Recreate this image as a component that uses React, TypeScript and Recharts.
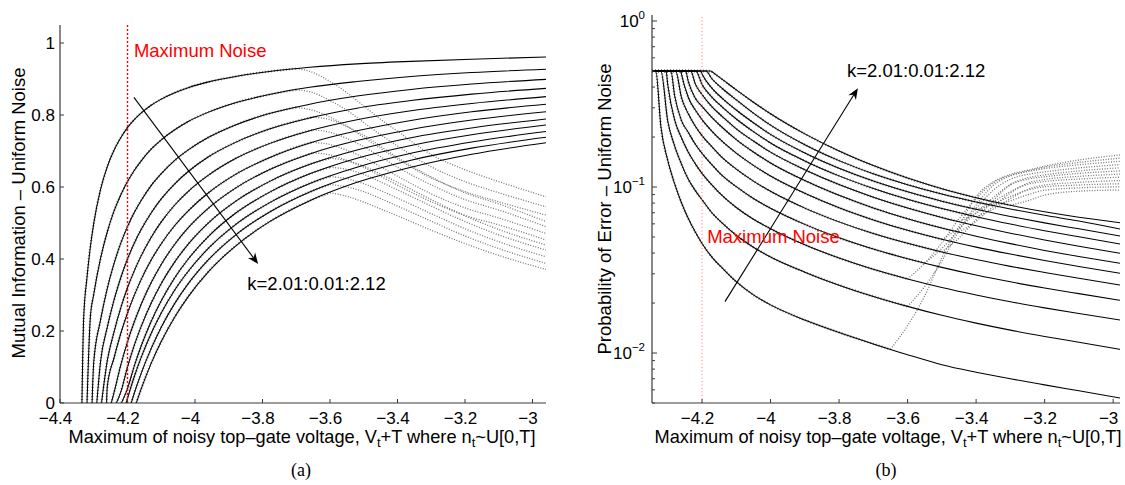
import React from 'react';
import { LineChart, Line, XAxis, YAxis, ReferenceLine, ReferenceDot } from 'recharts';

const FONT = '"Liberation Sans", Arial, Helvetica, sans-serif';
const N = null;

// k = 2.01 : 0.01 : 2.12
const kValues = ['2.01', '2.02', '2.03', '2.04', '2.05', '2.06', '2.07', '2.08', '2.09', '2.10', '2.11', '2.12'];
// voltage where each curve leaves MI = 0 / Pe = 0.5
const intercepts = [-4.335, -4.32, -4.305, -4.291, -4.277, -4.262, -4.248, -4.233, -4.218, -4.204, -4.189, -4.174];

// ---------- (a) Mutual information, theory (solid) ----------
const miGrid = [-4.33, -4.32, -4.31, -4.3, -4.28, -4.26, -4.24, -4.22, -4.2, -4.18, -4.16, -4.13, -4.1, -4.06, -4.02, -3.96, -3.88, -3.78, -3.66, -3.52, -3.36, -3.18, -2.96];
const mi201 = [0.232, 0.349, 0.434, 0.499, 0.593, 0.656, 0.702, 0.737, 0.765, 0.787, 0.805, 0.827, 0.844, 0.862, 0.876, 0.892, 0.907, 0.921, 0.9325, 0.942, 0.949, 0.955, 0.961];
const mi202 = [N, N, 0.239, 0.302, 0.401, 0.475, 0.533, 0.578, 0.615, 0.646, 0.672, 0.705, 0.731, 0.759, 0.782, 0.808, 0.834, 0.857, 0.877, 0.893, 0.907, 0.918, 0.927];
const mi203 = [N, N, N, 0.114, 0.23, 0.318, 0.387, 0.444, 0.49, 0.529, 0.562, 0.604, 0.637, 0.674, 0.703, 0.738, 0.7725, 0.804, 0.83, 0.8525, 0.871, 0.886, 0.899];
const mi204 = [N, N, N, N, 0.114, 0.21, 0.286, 0.348, 0.4, 0.444, 0.481, 0.528, 0.567, 0.609, 0.643, 0.684, 0.724, 0.761, 0.792, 0.819, 0.84, 0.858, 0.874];
const mi205 = [N, N, N, N, N, 0.117, 0.197, 0.264, 0.32, 0.367, 0.408, 0.46, 0.503, 0.55, 0.588, 0.633, 0.679, 0.7205, 0.7565, 0.787, 0.812, 0.832, 0.851];
const mi206 = [N, N, N, N, N, 0.045, 0.125, 0.193, 0.25, 0.299, 0.342, 0.397, 0.4425, 0.493, 0.534, 0.584, 0.635, 0.681, 0.722, 0.756, 0.785, 0.809, 0.83];
const mi207 = [N, N, N, N, N, N, 0.0285, 0.105, 0.17, 0.225, 0.273, 0.334, 0.385, 0.441, 0.487, 0.5415, 0.597, 0.648, 0.692, 0.729, 0.76, 0.786, 0.809];
const mi208 = [N, N, N, N, N, N, N, 0.03, 0.1, 0.16, 0.2115, 0.277, 0.332, 0.392, 0.4415, 0.5006, 0.56, 0.615, 0.663, 0.703, 0.737, 0.764, 0.789];
const mi209 = [N, N, N, N, N, N, N, N, 0.04, 0.1026, 0.157, 0.2264, 0.284, 0.348, 0.4, 0.463, 0.527, 0.585, 0.6365, 0.68, 0.7155, 0.745, 0.772];
const mi210 = [N, N, N, N, N, N, N, N, 0.013, 0.073, 0.1255, 0.193, 0.25, 0.314, 0.366, 0.43, 0.4955, 0.556, 0.61, 0.655, 0.6936, 0.725, 0.754];
const mi211 = [N, N, N, N, N, N, N, N, N, 0.027, 0.081, 0.151, 0.2106, 0.2767, 0.3315, 0.398, 0.4665, 0.53, 0.5864, 0.634, 0.6745, 0.708, 0.738];
const mi212 = [N, N, N, N, N, N, N, N, N, N, 0.038, 0.11, 0.1707, 0.239, 0.2956, 0.365, 0.436, 0.503, 0.562, 0.613, 0.655, 0.691, 0.723];
const miCurves = [mi201, mi202, mi203, mi204, mi205, mi206, mi207, mi208, mi209, mi210, mi211, mi212];

// ---------- (a) Mutual information, simulation tails (dotted) ----------
const miTailGrid = [-3.7, -3.65, -3.6, -3.55, -3.5, -3.45, -3.4, -3.3, -3.2, -3.1, -2.96];
const miTail201 = [0.929, 0.918, 0.893, 0.862, 0.825, 0.788, 0.755, 0.69, 0.648, 0.615, 0.573];
const miTail202 = [0.87, 0.862, 0.84, 0.813, 0.779, 0.745, 0.714, 0.656, 0.615, 0.584, 0.545];
const miTail203 = [0.821, 0.813, 0.794, 0.769, 0.738, 0.707, 0.678, 0.625, 0.587, 0.559, 0.522];
const miTail204 = [N, 0.794, 0.787, 0.768, 0.744, 0.713, 0.682, 0.628, 0.584, 0.553, 0.504];
const miTail205 = [N, 0.759, 0.752, 0.735, 0.712, 0.684, 0.655, 0.606, 0.565, 0.536, 0.49];
const miTail206 = [N, 0.724, 0.718, 0.702, 0.682, 0.656, 0.63, 0.581, 0.542, 0.514, 0.471];
const miTail207 = [N, 0.695, 0.689, 0.674, 0.655, 0.63, 0.605, 0.559, 0.521, 0.495, 0.453];
const miTail208 = [N, N, 0.68, 0.673, 0.658, 0.636, 0.613, 0.565, 0.52, 0.482, 0.439];
const miTail209 = [N, N, 0.655, 0.649, 0.635, 0.614, 0.592, 0.547, 0.504, 0.467, 0.425];
const miTail210 = [N, N, 0.629, 0.623, 0.609, 0.59, 0.569, 0.526, 0.484, 0.448, 0.406];
const miTail211 = [N, N, 0.607, 0.6, 0.587, 0.568, 0.547, 0.505, 0.464, 0.429, 0.388];
const miTail212 = [N, N, 0.584, 0.574, 0.558, 0.539, 0.52, 0.48, 0.443, 0.41, 0.371];
const miTails = [miTail201, miTail202, miTail203, miTail204, miTail205, miTail206, miTail207, miTail208, miTail209, miTail210, miTail211, miTail212];

// ---------- (b) Probability of error, theory (solid) ----------
const peGrid = [-4.32, -4.3, -4.28, -4.26, -4.24, -4.22, -4.2, -4.17, -4.14, -4.1, -4.05, -4.0, -3.9, -3.8, -3.7, -3.6, -3.5, -3.4, -3.3, -3.2, -3.1, -2.98];
const pe201 = [0.2307, 0.1445, 0.1047, 0.0804, 0.0646, 0.0537, 0.0457, 0.0376, 0.0324, 0.0269, 0.0224, 0.0195, 0.0158, 0.0133, 0.01135, 0.00977, 0.00851, 0.00767, 0.007, 0.00643, 0.00592, 0.00536];
const pe202 = [N, 0.249, 0.177, 0.1374, 0.1114, 0.0955, 0.0838, 0.0695, 0.0604, 0.0512, 0.0434, 0.0379, 0.0307, 0.02564, 0.02193, 0.0191, 0.01687, 0.01514, 0.01374, 0.01259, 0.01161, 0.01052];
const pe203 = [N, 0.413, 0.2535, 0.198, 0.162, 0.1384, 0.1208, 0.1023, 0.0883, 0.0753, 0.064, 0.0561, 0.04487, 0.03733, 0.03192, 0.02793, 0.02483, 0.02239, 0.02037, 0.01871, 0.0173, 0.0158];
const pe204 = [N, N, 0.356, 0.251, 0.2133, 0.1816, 0.1596, 0.1355, 0.1167, 0.1005, 0.0853, 0.0745, 0.05957, 0.04943, 0.04227, 0.03698, 0.03281, 0.02951, 0.02685, 0.02466, 0.0228, 0.0208];
const pe205 = [N, N, N, 0.346, 0.276, 0.2333, 0.204, 0.1738, 0.1496, 0.1282, 0.1086, 0.0942, 0.07464, 0.06166, 0.05248, 0.04581, 0.04064, 0.03656, 0.03327, 0.03055, 0.02818, 0.0257];
const pe206 = [N, N, N, 0.478, 0.346, 0.2917, 0.2547, 0.2158, 0.1875, 0.16, 0.1349, 0.1164, 0.09162, 0.07499, 0.06339, 0.05483, 0.04842, 0.04345, 0.03945, 0.03606, 0.03319, 0.0302];
const pe207 = [N, N, N, N, 0.4315, 0.3436, 0.3062, 0.2612, 0.2275, 0.1932, 0.1626, 0.1396, 0.1094, 0.08913, 0.07482, 0.06442, 0.05662, 0.05058, 0.0456, 0.0415, 0.03811, 0.0347];
const pe208 = [N, N, N, N, N, 0.4198, 0.3606, 0.3027, 0.2649, 0.2239, 0.1892, 0.1622, 0.1271, 0.1035, 0.0869, 0.07482, 0.06561, 0.05848, 0.05272, 0.04797, 0.04395, 0.0399];
const pe209 = [N, N, N, N, N, N, 0.415, 0.346, 0.302, 0.257, 0.2158, 0.1841, 0.1436, 0.1167, 0.09795, 0.08433, 0.07413, 0.06622, 0.05984, 0.05458, 0.05012, 0.0454];
const pe210 = [N, N, N, N, N, N, 0.48, 0.3917, 0.3412, 0.2911, 0.2438, 0.2075, 0.1603, 0.1297, 0.1086, 0.09354, 0.08222, 0.07345, 0.06653, 0.06081, 0.05598, 0.0507];
const pe211 = [N, N, N, N, N, N, N, 0.4457, 0.3908, 0.335, 0.2786, 0.236, 0.1799, 0.1442, 0.1202, 0.1033, 0.09078, 0.08128, 0.07379, 0.06761, 0.06237, 0.0558];
const pe212 = [N, N, N, N, N, N, N, 0.493, 0.4436, 0.3846, 0.3243, 0.2761, 0.2089, 0.1648, 0.1346, 0.1132, 0.09772, 0.0863, 0.07762, 0.07096, 0.06577, 0.061];
const peCurves = [pe201, pe202, pe203, pe204, pe205, pe206, pe207, pe208, pe209, pe210, pe211, pe212];

// ---------- (b) Probability of error, simulation tails (dotted) ----------
const peTailGrid = [-3.65, -3.6, -3.55, -3.5, -3.45, -3.4, -3.35, -3.3, -3.25, -3.2, -3.1, -2.98];
const peTail201 = [0.01052, 0.01462, 0.02208, 0.0375, 0.0579, 0.0875, 0.1074, 0.1191, 0.1262, 0.1334, 0.1455, 0.156];
const peTail202 = [N, 0.0191, 0.02518, 0.0358, 0.05445, 0.0778, 0.1023, 0.1167, 0.1245, 0.1315, 0.1406, 0.1493];
const peTail203 = [N, 0.02793, 0.03475, 0.04603, 0.06427, 0.08511, 0.1059, 0.1175, 0.1239, 0.1291, 0.1361, 0.1429];
const peTail204 = [N, N, 0.03483, 0.04266, 0.05559, 0.0743, 0.09572, 0.1114, 0.1191, 0.1233, 0.1303, 0.1365];
const peTail205 = [N, N, N, 0.04064, 0.04932, 0.06383, 0.08279, 0.1033, 0.1135, 0.1183, 0.125, 0.1306];
const peTail206 = [N, N, N, 0.04842, 0.05662, 0.06982, 0.0863, 0.1033, 0.1114, 0.1153, 0.1208, 0.125];
const peTail207 = [N, N, N, N, 0.05353, 0.06223, 0.07638, 0.09204, 0.1054, 0.1109, 0.1159, 0.1197];
const peTail208 = [N, N, N, N, 0.06194, 0.0695, 0.08128, 0.09376, 0.1038, 0.1079, 0.1117, 0.1146];
const peTail209 = [N, N, N, N, N, 0.06622, 0.07362, 0.08511, 0.0966, 0.1028, 0.1067, 0.1094];
const peTail210 = [N, N, N, N, N, 0.07345, 0.07925, 0.0877, 0.09594, 0.1002, 0.1028, 0.1047];
const peTail211 = [N, N, N, N, N, N, 0.07745, 0.0826, 0.08974, 0.09572, 0.09886, 0.1002];
const peTail212 = [N, N, N, N, N, N, N, 0.07762, 0.0826, 0.08933, 0.09441, 0.0959];
const peTails = [peTail201, peTail202, peTail203, peTail204, peTail205, peTail206, peTail207, peTail208, peTail209, peTail210, peTail211, peTail212];

// ---------- axes ----------
const miDomainX = [-4.4, -2.96];
const miDomainY = [0, 1.05];
const miTicksX = [-4.4, -4.2, -4, -3.8, -3.6, -3.4, -3.2, -3];
const miTicksY = [0, 0.2, 0.4, 0.6, 0.8, 1];
const peDomainX = [-4.346, -2.98];
const peDomainY = [0.005, 1.087];
const peTicksX = [-4.2, -4, -3.8, -3.6, -3.4, -3.2, -3];
const peTicksY = [0.005, 0.006, 0.007, 0.008, 0.009, 0.01, 0.02, 0.03, 0.04, 0.05, 0.06, 0.07, 0.08, 0.09, 0.1, 0.2, 0.3, 0.4, 0.5, 0.6, 0.7, 0.8, 0.9, 1];
const peMajor = [0.01, 0.1, 1];
const peMajorExp = ['\u22122', '\u22121', '0'];
const noiseLimit = -4.2;

// annotations (data coordinates)
const miNoiseText = { x: -4.181, y: 0.961 };
const miKText = { x: -3.845, y: 0.314 };
const miArrow = [{ x: -4.181, y: 0.849 }, { x: -3.813, y: 0.386 }];
const peNoiseText = { x: -4.185, y: 0.046 };
const peKText = { x: -3.777, y: 0.46 };
const peArrow = [{ x: -4.133, y: 0.0204 }, { x: -3.745, y: 0.3934 }];
const kText = 'k=2.01:0.01:2.12';
const noiseText = 'Maximum Noise';

type Pt = { x: number; y: number };

function buildSeries(x0: number, grid: number[], vals: (number | null)[], head: Pt[]): Pt[] {
  const pts: Pt[] = [...head];
  grid.forEach((x, j) => {
    const v = vals[j];
    if (v != null && x > x0 + 1e-9) pts.push({ x, y: v });
  });
  return pts;
}
function tailStart(tgrid: number[], tvals: (number | null)[]) {
  const first = tvals.findIndex((v) => v != null);
  return { x: tgrid[first], y: tvals[first] as number };
}
function preSegment(base: Pt[], tgrid: number[], tvals: (number | null)[]): Pt[] {
  const s = tailStart(tgrid, tvals);
  return [...base.filter((p) => p.x < s.x - 1e-9), s];
}
function tailSegment(tgrid: number[], tvals: (number | null)[]): Pt[] {
  const pts: Pt[] = [];
  tgrid.forEach((x, j) => {
    const v = tvals[j];
    if (v != null) pts.push({ x, y: v });
  });
  return pts;
}

const miSolid = miCurves.map((c, i) => buildSeries(intercepts[i], miGrid, c, [{ x: intercepts[i], y: 0 }]));
const miPre = miSolid.map((s, i) => preSegment(s, miTailGrid, miTails[i]));
const miTail = miTails.map((t) => tailSegment(miTailGrid, t));
const peSolid = peCurves.map((c, i) =>
  buildSeries(intercepts[i], peGrid, c, [{ x: peDomainX[0], y: 0.5 }, { x: intercepts[i], y: 0.5 }])
);
const pePre = peSolid.map((s, i) => preSegment(s, peTailGrid, peTails[i]));
const peTail = peTails.map((t) => tailSegment(peTailGrid, t));

const fmtNum = (v: number) => (v < 0 ? '\u2212' : '') + String(Math.abs(v));
const AXIS = '#3a3a3a';
const TM = 6;

const XTick = (props: any) => {
  const { x, y, payload } = props;
  const axisY = y - TM;
  const v = payload.value as number;
  return (
    <g>
      <line x1={x} x2={x} y1={axisY} y2={axisY - 4} stroke={AXIS} strokeWidth={1} />
      <text x={v < 0 ? x - 4.5 : x} y={axisY + 21} textAnchor="middle" fontSize={17} fontFamily={FONT} fill="#000">
        {fmtNum(v)}
      </text>
    </g>
  );
};
const MiYTick = (props: any) => {
  const { x, y, payload } = props;
  const axisX = x + TM;
  return (
    <g>
      <line x1={axisX} x2={axisX + 4} y1={y} y2={y} stroke={AXIS} strokeWidth={1} />
      <text x={axisX - 5} y={y + 5.5} textAnchor="end" fontSize={17} fontFamily={FONT} fill="#000">
        {String(payload.value)}
      </text>
    </g>
  );
};
const PeYTick = (props: any) => {
  const { x, y, payload } = props;
  const axisX = x + TM;
  const idx = peMajor.indexOf(payload.value);
  const major = idx >= 0;
  return (
    <g>
      <line x1={axisX} x2={axisX + (major ? 5 : 3)} y1={y} y2={y} stroke={AXIS} strokeWidth={1} />
      {major && (
        <text x={axisX - 7} y={y + 6} textAnchor="end" fontSize={17} fontFamily={FONT} fill="#000">
          10
          <tspan dy={-8} fontSize={11.5}>
            {peMajorExp[idx]}
          </tspan>
        </text>
      )}
    </g>
  );
};

const Arrow = (props: any) => {
  const { x1, y1, x2, y2 } = props;
  const a = Math.atan2(y2 - y1, x2 - x1);
  const L = 11;
  const W = 4.5;
  const c = Math.cos(a);
  const s = Math.sin(a);
  const bx = x2 - L * c;
  const by = y2 - L * s;
  const nx = x2 - L * 0.7 * c;
  const ny = y2 - L * 0.7 * s;
  const pts = `${x2},${y2} ${bx + W * s},${by - W * c} ${nx},${ny} ${bx - W * s},${by + W * c}`;
  return (
    <g>
      <line x1={x1} y1={y1} x2={nx} y2={ny} stroke="#000" strokeWidth={1.1} />
      <polygon points={pts} fill="#000" />
    </g>
  );
};

const makeLabel = (text: string, color: string) => (p: any) => (
  <text x={p.cx} y={p.cy} fontSize={18.5} fontFamily={FONT} fill={color}>
    {text}
  </text>
);

const SOLID_W = 1.05;
const GRAY = '#858585';
const TAIL = '#777777';

const renderSeries = (pre: Pt[][], tail: Pt[][], solid: Pt[][], tag: string) => [
  ...pre.map((d, i) => (
    <Line
      key={tag + 'pre' + i}
      data={d}
      dataKey="y"
      name={'simulation k=' + kValues[i]}
      type="monotone"
      stroke={GRAY}
      strokeWidth={2.4}
      strokeDasharray="1 2"
      dot={false}
      activeDot={false}
      legendType="none"
      isAnimationActive={false}
    />
  )),
  ...tail.map((d, i) => (
    <Line
      key={tag + 'tail' + i}
      data={d}
      dataKey="y"
      name={'simulation tail k=' + kValues[i]}
      type="monotone"
      stroke={TAIL}
      strokeWidth={1.3}
      strokeDasharray="1 1.6"
      dot={false}
      activeDot={false}
      legendType="none"
      isAnimationActive={false}
    />
  )),
  ...solid.map((d, i) => (
    <Line
      key={tag + 'solid' + i}
      data={d}
      dataKey="y"
      name={'theory k=' + kValues[i]}
      type="monotone"
      stroke="#000"
      strokeWidth={SOLID_W}
      dot={false}
      activeDot={false}
      isAnimationActive={false}
    />
  )),
];

export default function App() {
  return (
    <div style={{ position: 'absolute', left: 0, top: 0, width: 1125, height: 485, background: '#fff' }}>
      <div style={{ position: 'absolute', left: 0, top: 0 }}>
        <LineChart width={560} height={485} margin={{ top: 25, right: 14, bottom: 52, left: 0 }}>
          <XAxis
            type="number"
            dataKey="x"
            domain={miDomainX}
            allowDataOverflow
            ticks={miTicksX}
            interval={0}
            height={30}
            tickSize={0}
            tickMargin={TM}
            tickLine={false}
            axisLine={{ stroke: AXIS, strokeWidth: 1.2 }}
            tick={<XTick />}
          />
          <YAxis
            type="number"
            dataKey="y"
            domain={miDomainY}
            allowDataOverflow
            ticks={miTicksY}
            interval={0}
            width={60}
            tickSize={0}
            tickMargin={TM}
            tickLine={false}
            axisLine={{ stroke: AXIS, strokeWidth: 1.2 }}
            tick={<MiYTick />}
          />
          {renderSeries(miPre, miTail, miSolid, 'mi')}
          <ReferenceLine x={noiseLimit} stroke="#ff0000" strokeWidth={1.4} strokeDasharray="2 2" />
          <ReferenceLine segment={miArrow} shape={Arrow} ifOverflow="visible" />
          <ReferenceDot x={miNoiseText.x} y={miNoiseText.y} r={0} ifOverflow="visible" shape={makeLabel(noiseText, '#ff0000')} />
          <ReferenceDot x={miKText.x} y={miKText.y} r={0} ifOverflow="visible" shape={makeLabel(kText, '#000')} />
        </LineChart>
      </div>
      <div style={{ position: 'absolute', left: 560, top: 0 }}>
        <LineChart width={565} height={485} margin={{ top: 15, right: 5, bottom: 52, left: 0 }}>
          <XAxis
            type="number"
            dataKey="x"
            domain={peDomainX}
            allowDataOverflow
            ticks={peTicksX}
            interval={0}
            height={30}
            tickSize={0}
            tickMargin={TM}
            tickLine={false}
            axisLine={{ stroke: AXIS, strokeWidth: 1.2 }}
            tick={<XTick />}
          />
          <YAxis
            type="number"
            dataKey="y"
            scale="log"
            domain={peDomainY}
            allowDataOverflow
            ticks={peTicksY}
            interval={0}
            width={92}
            tickSize={0}
            tickMargin={TM}
            tickLine={false}
            axisLine={{ stroke: AXIS, strokeWidth: 1.2 }}
            tick={<PeYTick />}
          />
          {renderSeries(pePre, peTail, peSolid, 'pe')}
          <ReferenceLine x={noiseLimit} stroke="#ff7a7a" strokeWidth={1} strokeDasharray="1 2.5" />
          <ReferenceLine segment={peArrow} shape={Arrow} ifOverflow="visible" />
          <ReferenceDot x={peNoiseText.x} y={peNoiseText.y} r={0} ifOverflow="visible" shape={makeLabel(noiseText, '#ff0000')} />
          <ReferenceDot x={peKText.x} y={peKText.y} r={0} ifOverflow="visible" shape={makeLabel(kText, '#000')} />
        </LineChart>
      </div>
      <svg width={1125} height={485} style={{ position: 'absolute', left: 0, top: 0, pointerEvents: 'none' }}>
        <text x={25} y={213} transform="rotate(-90 25 213)" textAnchor="middle" fontSize={18.5} fontFamily={FONT} fill="#000">
          Mutual Information – Uniform Noise
        </text>
        <text x={611} y={209} transform="rotate(-90 611 209)" textAnchor="middle" fontSize={18.5} fontFamily={FONT} fill="#000">
          Probability of Error – Uniform Noise
        </text>
        <text x={302} y={443} textAnchor="middle" fontSize={18.2} fontFamily={FONT} fill="#000">
          Maximum of noisy top–gate voltage, V
          <tspan dy={4} fontSize={13}>t</tspan>
          <tspan dy={-4}>+T where n</tspan>
          <tspan dy={4} fontSize={13}>t</tspan>
          <tspan dy={-4}>~U[0,T]</tspan>
        </text>
        <text x={888} y={443} textAnchor="middle" fontSize={18.2} fontFamily={FONT} fill="#000">
          Maximum of noisy top–gate voltage, V
          <tspan dy={4} fontSize={13}>t</tspan>
          <tspan dy={-4}>+T where n</tspan>
          <tspan dy={4} fontSize={13}>t</tspan>
          <tspan dy={-4}>~U[0,T]</tspan>
        </text>
        <text x={301} y={476} textAnchor="middle" fontSize={18} fontFamily={'"Liberation Serif", "Times New Roman", serif'} fill="#000">
          (a)
        </text>
        <text x={886} y={476} textAnchor="middle" fontSize={18} fontFamily={'"Liberation Serif", "Times New Roman", serif'} fill="#000">
          (b)
        </text>
      </svg>
    </div>
  );
}
